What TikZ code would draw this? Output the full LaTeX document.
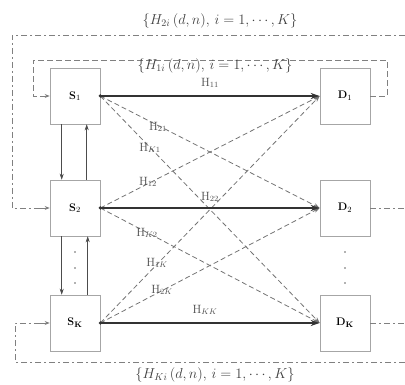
\documentclass[tikz,border=0pt]{standalone}
\usetikzlibrary{arrows.meta,calc}
\begin{document}
\begin{tikzpicture}[x=1pt,y=-1pt,
  box/.style={draw=black!35,line width=0.6pt,minimum width=50pt,minimum height=56pt,inner sep=0pt,font=\fontsize{11}{13}\selectfont\bfseries},
  main/.style={draw=black!80,line width=1.1pt,-{Stealth[length=9pt,width=6pt]}},
  cross/.style={draw=black!55,line width=0.8pt,dash pattern=on 5pt off 3pt,-{Stealth[length=6pt,width=4pt]}},
  fb/.style={draw=black!50,line width=0.8pt,dash pattern=on 6pt off 3pt on 2pt off 3pt},
  fbin/.style={draw=black!50,line width=0.8pt,dash pattern=on 6pt off 3pt},
  vert/.style={draw=black!70,line width=0.6pt,-{Stealth[length=6pt,width=4pt]}},
  lab/.style={font=\fontsize{12}{14}\selectfont,text=black!70,inner sep=1pt},
  setlab/.style={font=\fontsize{14}{16}\selectfont,text=black!75,inner sep=1pt},
  dotn/.style={circle,fill=black!60,inner sep=0pt,minimum size=1.6pt}
]
\useasboundingbox (0,0) rectangle (405,385);

% boxes
\node[box] (s1) at (75,96) {S$_1$};
\node[box] (s2) at (75,208) {S$_2$};
\node[box] (sk) at (75,323) {S$_\mathbf{K}$};
\node[box] (d1) at (345,96) {D$_1$};
\node[box] (d2) at (345,208) {D$_2$};
\node[box] (dk) at (345,323) {D$_\mathbf{K}$};

% cross links
\draw[cross] (s1.east) -- (d2.west);
\draw[cross] (s1.east) -- (dk.west);
\draw[cross] (s2.east) -- (d1.west);
\draw[cross] (s2.east) -- (dk.west);
\draw[cross] (sk.east) -- (d1.west);
\draw[cross] (sk.east) -- (d2.west);

% main links
\draw[main] (s1.east) -- (d1.west);
\draw[main] (s2.east) -- (d2.west);
\draw[main] (sk.east) -- (dk.west);
\fill[black!80] (s1.east) circle (1.8pt) (s2.east) circle (1.8pt) (sk.east) circle (1.8pt);

% labels of links
\node[lab] (l11) at (210,83) {H$_{11}$};
\node[lab] (l21) at (158,127) {H$_{21}$};
\node[lab] (lk1) at (150,148) {H$_{K1}$};
\node[lab] (l12) at (148,182) {H$_{12}$};
\node[lab] (l22) at (210,197) {H$_{22}$};
\node[lab] (lk2) at (147,233) {H$_{K2}$};
\node[lab] (l1k) at (157,263) {H$_{1K}$};
\node[lab] (l2k) at (162,290) {H$_{2K}$};
\node[lab] (lkk) at (205,310) {H$_{KK}$};

% vertical arrows between sources
\draw[vert] ($(s1.south west)+(12,0)$) -- ($(s2.north west)+(12,0)$);
\draw[vert] ($(s2.north west)+(37,0)$) -- ($(s1.south west)+(37,0)$);
\draw[vert] ($(s2.south west)+(12,0)$) -- ($(sk.north west)+(12,0)$);
\draw[vert] ($(sk.north west)+(38,0)$) -- ($(s2.south west)+(38,0)$);

% vertical dots
\node[dotn] (sd1) at (75,252) {};
\node[dotn] (sd2) at (75,268) {};
\node[dotn] (sd3) at (75,283) {};
\node[dotn] (dd1) at (345,252) {};
\node[dotn] (dd2) at (345,268) {};
\node[dotn] (dd3) at (345,283) {};

% feedback loops
\coordinate (e2) at (405,208);
\coordinate (ek) at (405,323);
\draw[fbin,-{Stealth[length=5pt,width=4pt]}] (d1.east) -| (387,60) -| (33,96) -- (s1.west);
\draw[fb] (d2.east) -- (e2);
\draw[fb] (405,35) -- (12,35) |- (40,208);
\draw[fbin,-{Stealth[length=5pt,width=4pt]}] (40,208) -- (s2.west);
\draw[fb] (dk.east) -- (ek);
\draw[fb] (405,362) -- (15,362) |- (40,323);
\draw[fbin,-{Stealth[length=5pt,width=4pt]}] (40,323) -- (sk.west);

% feedback labels
\node[setlab] (t2) at (220,21) {$\{H_{2i}\,(d,n),\, i=1,\cdots,K\}$};
\node[setlab] (t1) at (215,66) {$\{H_{1i}\,(d,n),\, i=1,\cdots,K\}$};
\node[setlab] (tk) at (215,375) {$\{H_{Ki}\,(d,n),\, i=1,\cdots,K\}$};
\end{tikzpicture}
\end{document}
